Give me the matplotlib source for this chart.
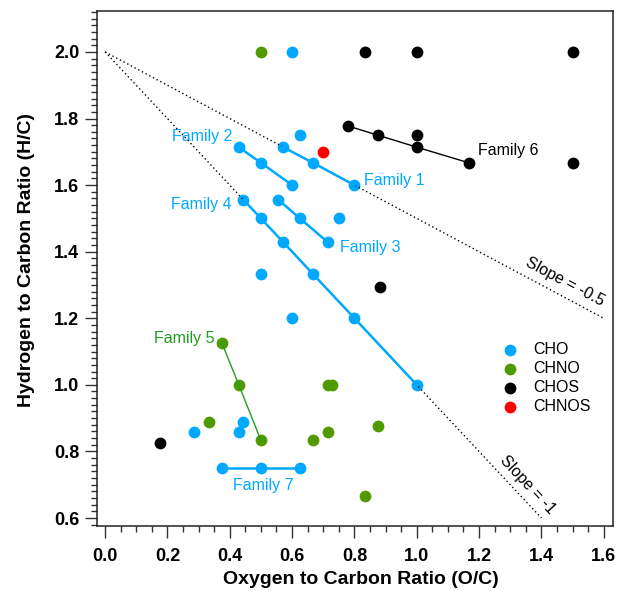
import numpy as np
import matplotlib.pyplot as plt
from matplotlib.ticker import MultipleLocator

plt.rcParams['font.family'] = ['Liberation Sans', 'DejaVu Sans']

# O/C and H/C values
cho_x = [0.6, 0.625, 0.429, 0.5, 0.6, 0.571, 0.667, 0.8, 0.444, 0.5, 0.571,
         0.667, 0.8, 1.0, 0.556, 0.625, 0.714, 0.75, 0.5, 0.6, 0.286, 0.444,
         0.429, 0.375, 0.5, 0.625]
cho_y = [2.0, 1.75, 1.714, 1.667, 1.6, 1.714, 1.667, 1.6, 1.556, 1.5, 1.429,
         1.333, 1.2, 1.0, 1.556, 1.5, 1.429, 1.5, 1.333, 1.2, 0.857, 0.889,
         0.857, 0.75, 0.75, 0.75]
chno_x = [0.5, 0.375, 0.429, 0.5, 0.714, 0.727, 0.333, 0.667, 0.714, 0.875, 0.833]
chno_y = [2.0, 1.125, 1.0, 0.833, 1.0, 1.0, 0.889, 0.833, 0.857, 0.875, 0.667]
chos_x = [0.833, 1.0, 1.5, 0.778, 0.875, 1.0, 1.0, 1.167, 1.5, 0.882, 0.176]
chos_y = [2.0, 2.0, 2.0, 1.778, 1.75, 1.75, 1.714, 1.667, 1.667, 1.294, 0.824]
chnos_x = [0.7]
chnos_y = [1.7]

# homologous families (lines through the points)
fam1_x, fam1_y = [0.571, 0.667, 0.8], [1.714, 1.667, 1.6]
fam2_x, fam2_y = [0.429, 0.5, 0.6], [1.714, 1.667, 1.6]
fam3_x, fam3_y = [0.556, 0.625, 0.714], [1.556, 1.5, 1.429]
fam4_x = [0.444, 0.5, 0.571, 0.667, 0.8, 1.0]
fam4_y = [1.556, 1.5, 1.429, 1.333, 1.2, 1.0]
fam5_x, fam5_y = [0.375, 0.429, 0.5], [1.125, 1.0, 0.833]
fam6_x, fam6_y = [0.778, 0.875, 1.0, 1.167], [1.778, 1.75, 1.714, 1.667]
fam7_x, fam7_y = [0.375, 0.5, 0.625], [0.75, 0.75, 0.75]

blue = '#00a9ff'
green = '#4f9a00'
green2 = '#1f9f1f'

fig = plt.figure(figsize=(6.21, 5.91), dpi=100)
ax = fig.add_axes([0.1557, 0.110, 0.831, 0.8714])

# family lines sit on top of markers and of the dotted slope lines
for fx, fy in [(fam1_x, fam1_y), (fam2_x, fam2_y), (fam3_x, fam3_y),
               (fam4_x, fam4_y), (fam7_x, fam7_y)]:
    ax.plot(fx, fy, color=blue, lw=1.8, zorder=5)
ax.plot(fam5_x, fam5_y, color=green2, lw=1.0, zorder=5)
ax.plot(fam6_x, fam6_y, color='black', lw=1.0, zorder=5)

ms = 72
ax.scatter(cho_x, cho_y, s=ms, color=blue, lw=0, zorder=3, label='CHO')
ax.scatter(chno_x, chno_y, s=ms, color=green, lw=0, zorder=3, label='CHNO')
ax.scatter(chos_x, chos_y, s=ms, color='black', lw=0, zorder=3, label='CHOS')
ax.scatter(chnos_x, chnos_y, s=ms, color='red', lw=0, zorder=3, label='CHNOS')

# reference slopes from (0, 2)
ax.plot([0, 1.6], [2.0, 1.2], color='black', ls=(0, (1, 2)), lw=1.0, zorder=4)
ax.plot([0, 1.4], [2.0, 0.6], color='black', ls=(0, (1, 2)), lw=1.0, zorder=4)
ax.text(1.475, 1.31, 'Slope = -0.5', rotation=-28, ha='center', va='center', fontsize=11.5)
ax.text(1.357, 0.70, 'Slope = -1', rotation=-47, ha='center', va='center', fontsize=11.5)

fs = 11.5
ax.text(0.41, 1.745, 'Family 2', color=blue, ha='right', va='center', fontsize=fs)
ax.text(0.405, 1.543, 'Family 4', color=blue, ha='right', va='center', fontsize=fs)
ax.text(0.832, 1.615, 'Family 1', color=blue, ha='left', va='center', fontsize=fs)
ax.text(0.754, 1.413, 'Family 3', color=blue, ha='left', va='center', fontsize=fs)
ax.text(1.198, 1.704, 'Family 6', color='black', ha='left', va='center', fontsize=fs)
ax.text(0.351, 1.138, 'Family 5', color=green2, ha='right', va='center', fontsize=fs)
ax.text(0.509, 0.697, 'Family 7', color=blue, ha='center', va='center', fontsize=fs)

ax.set_xlim(-0.027, 1.629)
ax.set_ylim(0.576, 2.123)
ax.xaxis.set_major_locator(MultipleLocator(0.2))
ax.xaxis.set_minor_locator(MultipleLocator(0.05))
ax.yaxis.set_major_locator(MultipleLocator(0.2))
ax.yaxis.set_minor_locator(MultipleLocator(0.02))
ax.tick_params(which='both', direction='out', color='#333333', width=1, top=False, right=False)
ax.tick_params(which='major', length=8.5, labelsize=13)
ax.tick_params(axis='x', which='major', pad=7)
ax.tick_params(axis='y', which='major', pad=4)
ax.tick_params(which='minor', length=4.3)
for lab in ax.get_xticklabels() + ax.get_yticklabels():
    lab.set_fontweight('bold')
for sp in ax.spines.values():
    sp.set_linewidth(1.1)
    sp.set_color('#222222')

ax.set_xlabel('Oxygen to Carbon Ratio (O/C)', fontsize=14, fontweight='bold')
ax.set_ylabel('Hydrogen to Carbon Ratio (H/C)', fontsize=14, fontweight='bold')
ax.xaxis.set_label_coords(0.511, -0.088)
ax.yaxis.set_label_coords(-0.12, 0.516)

ax.legend(loc='upper left', bbox_to_anchor=(0.769, 0.37), frameon=False, fontsize=11.5,
          handletextpad=0.9, labelspacing=0.26, borderaxespad=0, handlelength=1.2)

plt.savefig('out.png', dpi=100)
